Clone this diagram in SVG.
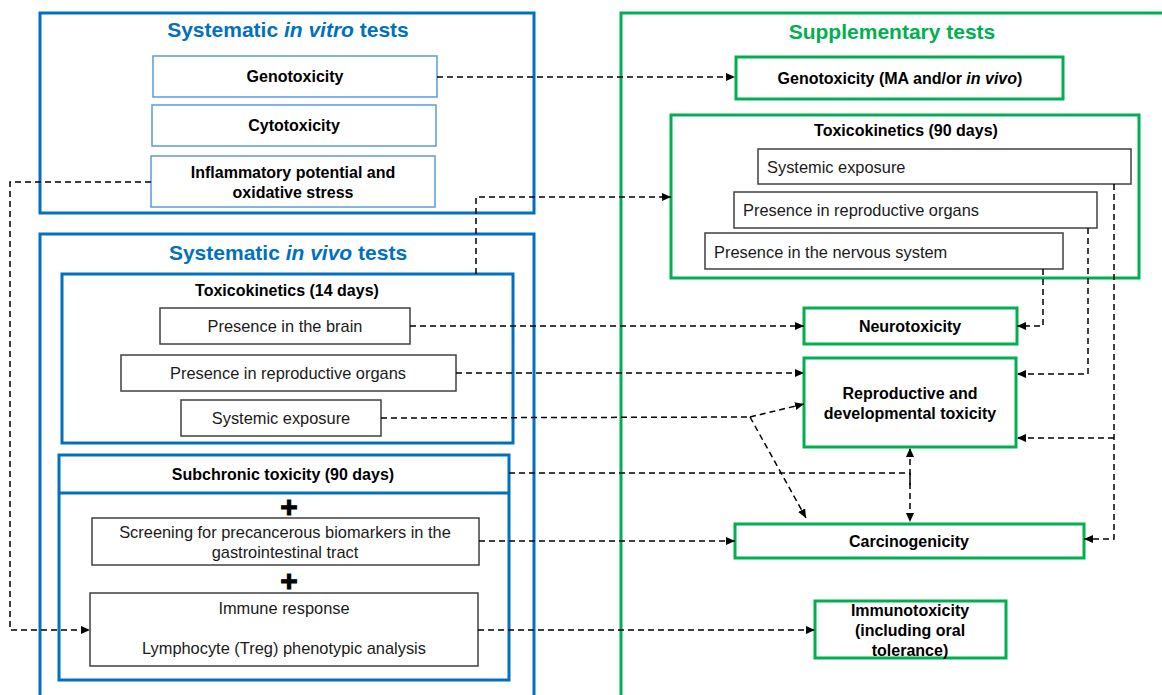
<svg xmlns="http://www.w3.org/2000/svg" width="1162" height="695" viewBox="0 0 1162 695">
<style>
text{font-family:"Liberation Sans",Arial,sans-serif;fill:#000;}
.title{font-size:21px;font-weight:bold;text-anchor:middle;}
.tb{fill:#0070C0;}
.tg{fill:#00B050;}
.b{font-size:16px;font-weight:bold;text-anchor:middle;}
.r{font-size:16.4px;text-anchor:middle;fill:#1a1a1a;}
.rl{font-size:16.4px;fill:#1a1a1a;}
.blue{fill:none;stroke:#0070C0;stroke-width:3;}
.green{fill:none;stroke:#00B050;stroke-width:3;}
.lb{fill:#fff;stroke:#5B9BD5;stroke-width:1.5;}
.gr{fill:#fff;stroke:#404040;stroke-width:1.5;}
.plus{font-size:30px;font-weight:bold;text-anchor:middle;stroke:#000;stroke-width:1;}
.c{fill:none;stroke:#000;stroke-width:1.5;stroke-dasharray:6 4;marker-end:url(#ah);}
.cn{fill:none;stroke:#000;stroke-width:1.5;stroke-dasharray:6 4;}
</style>
<defs>
<marker id="ah" markerUnits="userSpaceOnUse" markerWidth="9" markerHeight="8" refX="9" refY="4" orient="auto-start-reverse">
<path d="M0,0 L9,4 L0,8 z" fill="#000"/>
</marker>
</defs>
<rect width="1162" height="695" fill="#fff"/>

<g id="invitro">
<rect class="blue" x="40" y="13" width="494" height="200"/>
<text class="title tb" x="288" y="37">Systematic <tspan font-style="italic">in vitro</tspan> tests</text>
</g>
<g id="geno-vitro">
<rect class="lb" x="153" y="56" width="284" height="41"/>
<text class="b" x="295" y="82">Genotoxicity</text>
</g>
<g id="cyto">
<rect class="lb" x="152" y="105" width="284" height="41"/>
<text class="b" x="294" y="131">Cytotoxicity</text>
</g>
<g id="inflam">
<rect class="lb" x="151" y="156" width="284" height="51"/>
<text class="b" x="293" y="178">Inflammatory potential and</text>
<text class="b" x="293" y="198">oxidative stress</text>
</g>

<g id="invivo">
<rect class="blue" x="40" y="234" width="494" height="480"/>
<text class="title tb" x="288" y="260">Systematic <tspan font-style="italic">in vivo</tspan> tests</text>
</g>
<g id="tk14">
<rect class="blue" x="62" y="274" width="451" height="169"/>
<text class="b" x="287" y="296">Toxicokinetics (14 days)</text>
</g>
<g id="brain">
<rect class="gr" x="160" y="308" width="250" height="36"/>
<text class="r" x="285" y="332">Presence in the brain</text>
</g>
<g id="repro14">
<rect class="gr" x="121" y="355" width="335" height="36"/>
<text class="r" x="288" y="379">Presence in reproductive organs</text>
</g>
<g id="sys14">
<rect class="gr" x="181" y="400" width="200" height="36"/>
<text class="r" x="281" y="424">Systemic exposure</text>
</g>
<g id="subchronic">
<rect class="blue" x="59" y="455" width="450" height="225"/>
<line x1="59" y1="493" x2="509" y2="493" stroke="#0070C0" stroke-width="3"/>
<text class="b" x="283" y="480">Subchronic toxicity (90 days)</text>
<text class="plus" x="289" y="517">+</text>
<text class="plus" x="289" y="591">+</text>
</g>
<g id="screening">
<rect class="gr" x="92" y="518" width="387" height="47"/>
<text class="r" x="285" y="538">Screening for precancerous biomarkers in the</text>
<text class="r" x="285" y="558">gastrointestinal tract</text>
</g>
<g id="immune">
<rect class="gr" x="90" y="593" width="388" height="73"/>
<text class="r" x="284" y="614">Immune response</text>
<text class="r" x="284" y="654">Lymphocyte (Treg) phenotypic analysis</text>
</g>

<g id="supplementary">
<rect class="green" x="621" y="13" width="560" height="700"/>
<text class="title tg" x="892" y="39">Supplementary tests</text>
</g>
<g id="geno-supp">
<rect class="green" x="736" y="57" width="327" height="42"/>
<text class="b" x="900" y="84">Genotoxicity (MA and/or <tspan font-style="italic">in vivo</tspan>)</text>
</g>
<g id="tk90">
<rect class="green" x="671" y="115" width="468" height="163"/>
<text class="b" x="906" y="136">Toxicokinetics (90 days)</text>
</g>
<g id="sys90">
<rect class="gr" x="758" y="149" width="373" height="35"/>
<text class="rl" x="767" y="173">Systemic exposure</text>
</g>
<g id="repro90">
<rect class="gr" x="734" y="192" width="363" height="36"/>
<text class="rl" x="743" y="216">Presence in reproductive organs</text>
</g>
<g id="nervous90">
<rect class="gr" x="705" y="233" width="358" height="36"/>
<text class="rl" x="714" y="258">Presence in the nervous system</text>
</g>
<g id="neurotox">
<rect class="green" x="804" y="308" width="213" height="36"/>
<text class="b" x="910" y="332">Neurotoxicity</text>
</g>
<g id="reprotox">
<rect class="green" x="804" y="358" width="212" height="89"/>
<text class="b" x="910" y="399">Reproductive and</text>
<text class="b" x="910" y="419">developmental toxicity</text>
</g>
<g id="carcino">
<rect class="green" x="735" y="524" width="349" height="34"/>
<text class="b" x="909" y="547">Carcinogenicity</text>
</g>
<g id="immunotox">
<rect class="green" x="815" y="601" width="191" height="57"/>
<text class="b" x="910" y="616">Immunotoxicity</text>
<text class="b" x="910" y="636">(including oral</text>
<text class="b" x="910" y="656">tolerance)</text>
</g>

<g id="connectors">
<path class="c" d="M437,77 H735"/>
<path class="c" d="M151,182 H10 V630 H90"/>
<path class="c" d="M476,274 V197 H671"/>
<path class="c" d="M410,326 H804"/>
<path class="c" d="M456,373 H804"/>
<path class="cn" d="M381,418 L750,417"/>
<path class="c" d="M750,417 L804,404"/>
<path class="c" d="M750,417 L806,518"/>
<path class="cn" d="M509,473 H910"/>
<path class="c" d="M910,485 V448" />
<path class="c" d="M910,473 V522" />
<path class="c" d="M479,541 H735"/>
<path class="c" d="M478,630 H815"/>
<path class="c" d="M1043,269 V326 H1017"/>
<path class="c" d="M1088,228 V374 H1017"/>
<path class="c" d="M1114,184 V539 H1084"/>
<path class="c" d="M1114,438 H1017"/>
</g>
</svg>
